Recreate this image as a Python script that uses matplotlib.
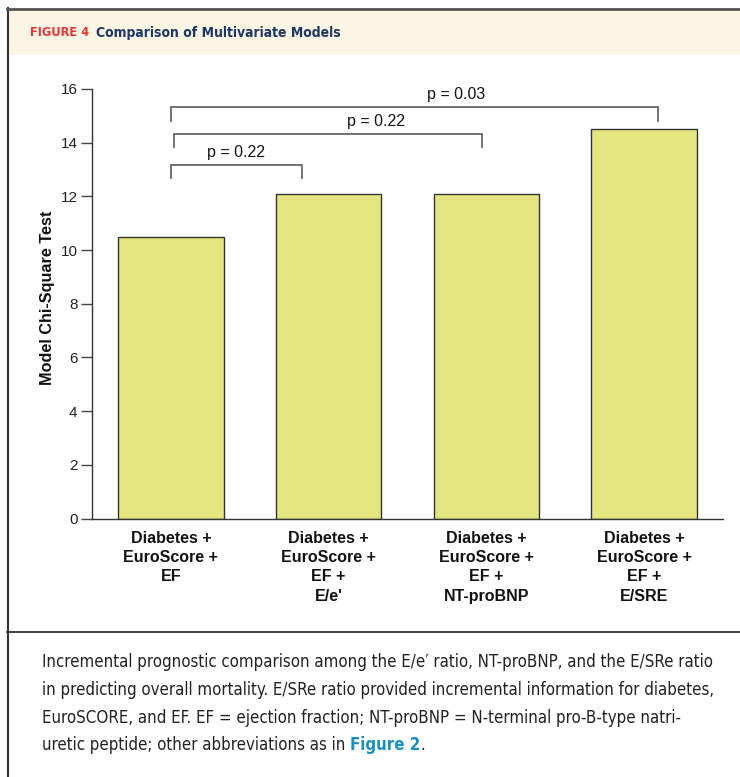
import matplotlib.pyplot as plt
from matplotlib.lines import Line2D
from matplotlib.patches import Rectangle

# model chi-square values for each nested model
models = ['Diabetes +\nEuroScore +\nEF',
          'Diabetes +\nEuroScore +\nEF +\nE/e\'',
          'Diabetes +\nEuroScore +\nEF +\nNT-proBNP',
          'Diabetes +\nEuroScore +\nEF +\nE/SRE']
chi_square = [10.5, 12.1, 12.1, 14.5]

# pairwise comparisons against the baseline model
comparisons = [(0, 1, 'p = 0.22'), (0, 2, 'p = 0.22'), (0, 3, 'p = 0.03')]
yticks = [0, 2, 4, 6, 8, 10, 12, 14, 16]

caption = ["Incremental prognostic comparison among the E/e\u2032 ratio, NT-proBNP, and the E/SRe ratio",
           "in predicting overall mortality. E/SRe ratio provided incremental information for diabetes,",
           "EuroSCORE, and EF. EF = ejection fraction; NT-proBNP = N-terminal pro-B-type natri-",
           "uretic peptide; other abbreviations as in "]

W, H = 740, 777
fig = plt.figure(figsize=(W/100, H/100), dpi=100)

def fx(px):
    return px / W

def fy(py):
    return 1 - py / H

# header band and frame
fig.patches.append(Rectangle((fx(8), fy(55)), 1, fy(9) - fy(55), transform=fig.transFigure,
                             facecolor='#fdf5e3', edgecolor='none', zorder=0))
fig.lines.append(Line2D([fx(7.5), fx(7.5)], [fy(8), 0], transform=fig.transFigure, color='#333333', lw=1.5))
fig.lines.append(Line2D([fx(7), 1], [fy(8.5), fy(8.5)], transform=fig.transFigure, color='#555555', lw=2))
fig.lines.append(Line2D([fx(7), 1], [fy(632), fy(632)], transform=fig.transFigure, color='#333333', lw=1.3))

head_font = ['DejaVu Sans']
fig.text(fx(30), fy(33), 'FIGURE 4', color='#e3383a', fontsize=9.2, fontweight='bold',
         family=head_font, fontstretch='condensed', va='center', ha='left')
fig.text(fx(96), fy(33), 'Comparison of Multivariate Models', color='#1d3866', fontsize=10,
         fontweight='bold', family=head_font, fontstretch='condensed', va='center', ha='left')

ax = fig.add_axes([fx(92), fy(518.5), fx(723) - fx(92), fy(89) - fy(518.5)])
plt.rcParams['font.family'] = ['Liberation Sans', 'DejaVu Sans']

xs = range(len(models))
ax.bar(xs, chi_square, width=0.67, color='#e4e77f', edgecolor='#333333', linewidth=1.0, zorder=2)
ax.set_xlim(-0.5, 3.5)
ax.set_ylim(0, 16)
ax.set_yticks(yticks)
ax.set_yticklabels([str(t) for t in yticks], family='Liberation Sans', fontsize=11, color='#222222')
ax.set_xticks(list(xs))
ax.set_xticklabels(models, family='Liberation Sans', fontsize=11.5, fontweight='bold',
                   color='#111111', linespacing=1.35)
ax.tick_params(axis='x', length=0, pad=9)
ax.tick_params(axis='y', length=8, width=1, color='#444444', pad=2.5)
for side in ['top', 'right']:
    ax.spines[side].set_visible(False)
for side in ['left', 'bottom']:
    ax.spines[side].set_color('#333333')
    ax.spines[side].set_linewidth(1.0)
ax.set_ylabel('Model Chi-Square Test', family='Liberation Sans', fontsize=11.7, fontweight='bold',
              labelpad=4, color='#111111', y=0.513)

# comparison brackets: (left x, right x, top, drop, label x, label y)
bracket_geom = [(0.0, 0.83, 13.17, 0.5, 0.41, 13.65),
                (0.02, 1.975, 14.32, 0.48, 1.30, 14.8),
                (0.0, 3.09, 15.33, 0.52, 1.81, 15.78)]
for (i, j, label), (x0, x1, top, drop, tx, ty) in zip(comparisons, bracket_geom):
    ax.plot([x0, x0, x1, x1], [top - drop, top, top, top - drop], color='#666666', lw=1.3,
            clip_on=False, solid_joinstyle='miter')
    ax.text(tx, ty, label, ha='center', va='center', fontsize=11.5, family='Liberation Sans',
            color='#111111')

# caption under the chart
cap_font = ['DejaVu Sans']
cap_size = 12.1
for k, line in enumerate(caption):
    t = fig.text(fx(42), fy(662 + 27.8 * k), line, fontsize=cap_size, family=cap_font,
                 fontstretch='condensed', color='#222222', va='center', ha='left')
fig.canvas.draw()
bb = t.get_window_extent()
fig.text(bb.x1 / W, fy(662 + 27.8 * 3), 'Figure 2', fontsize=cap_size, family=cap_font,
         fontstretch='condensed', color='#1b8fbf', fontweight='bold', va='center', ha='left')
bb2 = fig.texts[-1].get_window_extent()
fig.text(bb2.x1 / W, fy(662 + 27.8 * 3), '.', fontsize=cap_size, family=cap_font,
         fontstretch='condensed', color='#222222', va='center', ha='left')

fig.savefig('out.png', dpi=100)
